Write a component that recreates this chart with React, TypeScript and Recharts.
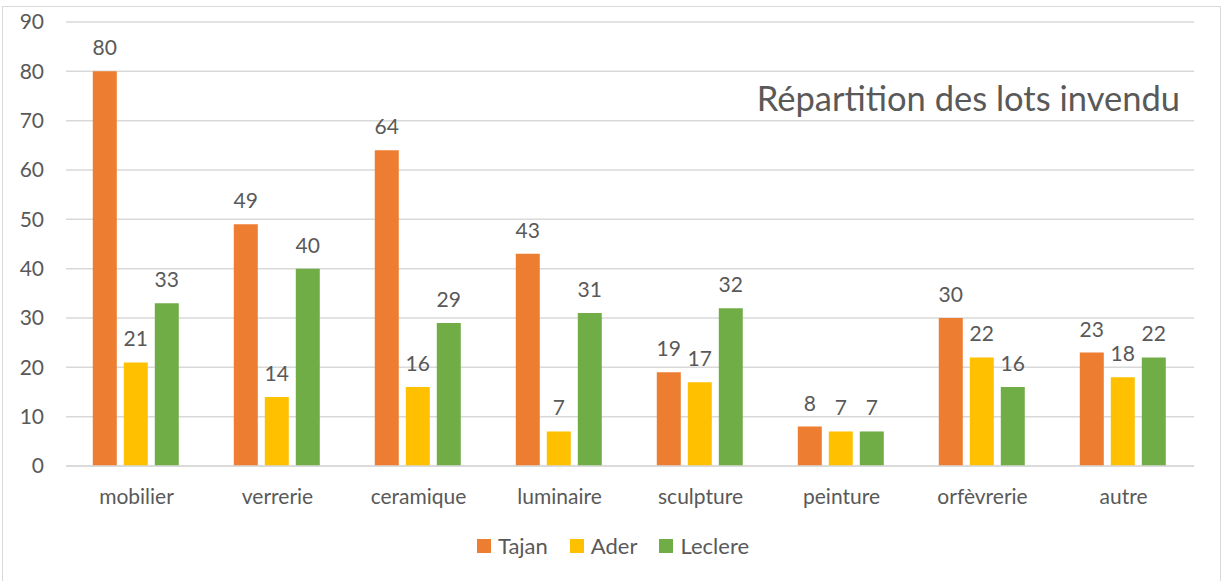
import React from "react";
import {
  BarChart,
  Bar,
  XAxis,
  YAxis,
  CartesianGrid,
  Legend,
  LabelList
} from "recharts";

const categories = ["mobilier", "verrerie", "ceramique", "luminaire", "sculpture", "peinture", "orfèvrerie", "autre"];
const tajan = [80, 49, 64, 43, 19, 8, 30, 23];
const ader = [21, 14, 16, 7, 17, 7, 22, 18];
const leclere = [33, 40, 29, 31, 32, 7, 16, 22];
const yTicks = [0, 10, 20, 30, 40, 50, 60, 70, 80, 90];
const seriesNames = ["Tajan", "Ader", "Leclere"];
const seriesColors = ["#ED7D31", "#FFC000", "#70AD47"];

const data = categories.map((name, i) => ({
  name,
  Tajan: tajan[i],
  Ader: ader[i],
  Leclere: leclere[i]
}));

const font = "Lato, 'Open Sans', sans-serif";
const textColor = "#595959";
const labelStyle = { fill: textColor, fontSize: 21, fontFamily: font };

const LegendContent = () => (
  <div style={{ display: "flex", justifyContent: "center", alignItems: "center", fontFamily: font, fontSize: 22, color: textColor, paddingLeft: 16 }}>
    {seriesNames.map((n, i) => (
      <div key={n} style={{ display: "flex", alignItems: "center", marginRight: i < 2 ? 22 : 0 }}>
        <span style={{ display: "inline-block", width: 14, height: 14, background: seriesColors[i], marginRight: 7 }} />
        <span>{n}</span>
      </div>
    ))}
  </div>
);

const App: React.FC = () => {
  return (
    <div style={{ position: "absolute", left: 0, top: 0, width: 1223, height: 581, overflow: "hidden" }}>
      <div
        style={{
          position: "absolute",
          left: 2,
          top: 6,
          width: 1219,
          height: 600,
          border: "1px solid #D9D9D9",
          boxSizing: "border-box"
        }}
      />
      <BarChart
        width={1223}
        height={581}
        data={data}
        margin={{ top: 22, right: 29, left: 16, bottom: 22 }}
        barCategoryGap="19%"
        barGap={7}
      >
        <CartesianGrid vertical={false} stroke="#D9D9D9" strokeWidth={1.5} />
        <XAxis
          dataKey="name"
          axisLine={{ stroke: "#D9D9D9", strokeWidth: 1.5 }}
          tickLine={false}
          tick={{ fill: textColor, fontSize: 21, fontFamily: font }}
          tickMargin={17}
          height={66}
          interval={0}
        />
        <YAxis
          domain={[0, 90]}
          ticks={yTicks}
          axisLine={false}
          tickLine={false}
          tick={{ fill: textColor, fontSize: 21, fontFamily: font }}
          tickMargin={16}
          width={50}
        />
        <Legend verticalAlign="bottom" align="center" content={LegendContent} />
        {seriesNames.map((n, i) => (
          <Bar key={n} dataKey={n} fill={seriesColors[i]} isAnimationActive={false}>
            <LabelList dataKey={n} position="top" offset={16} style={labelStyle} />
          </Bar>
        ))}
      </BarChart>
      <div
        style={{
          position: "absolute",
          right: 43,
          top: 78,
          fontFamily: font,
          fontSize: 34.5,
          color: textColor,
          whiteSpace: "nowrap",
          lineHeight: "40px"
        }}
      >
        Répartition des lots invendu
      </div>
    </div>
  );
};

export default App;
